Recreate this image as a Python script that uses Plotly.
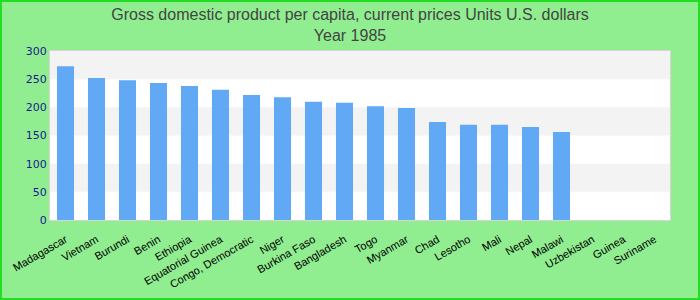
import plotly.graph_objects as go

countries = ["Madagascar", "Vietnam", "Burundi", "Benin", "Ethiopia", "Equatorial Guinea",
             "Congo, Democratic", "Niger", "Burkina Faso", "Bangladesh", "Togo", "Myanmar",
             "Chad", "Lesotho", "Mali", "Nepal", "Malawi", "Uzbekistan", "Guinea", "Suriname"]
gdp = [273, 252, 248, 243, 238, 231, 222, 218, 210, 208, 202, 199,
       174, 169, 169, 165, 156, None, None, None]
y_ticks = [0, 50, 100, 150, 200, 250, 300]

W, H = 700, 300
ML, MR, MT, MB = 50, 30, 51, 80
pw, ph = W - ML - MR, H - MT - MB

fig = go.Figure()
fig.add_trace(go.Bar(x=countries, y=gdp, marker=dict(color="#61a9f5", line=dict(width=0))))

shapes = []
for lo, hi in [(250, 300), (150, 200), (50, 100)]:
    shapes.append(dict(type="rect", xref="paper", yref="y", x0=0, x1=1, y0=lo, y1=hi,
                       fillcolor="#f3f3f3", line=dict(width=0), layer="below"))
shapes.append(dict(type="rect", xref="paper", yref="paper",
                   x0=(-ML + 1) / pw, x1=(W - ML - 1) / pw,
                   y0=(-MB + 1) / ph, y1=1 + (MT - 1) / ph,
                   line=dict(color="#22dd22", width=2), fillcolor="rgba(0,0,0,0)"))

fig.update_layout(
    width=W, height=H,
    margin=dict(l=ML, r=MR, t=MT, b=MB, pad=0, autoexpand=False),
    paper_bgcolor="#90ee90", plot_bgcolor="white",
    title=dict(text="Gross domestic product per capita, current prices Units U.S. dollars<br>Year 1985",
               x=0.5, xanchor="center", yref="container", y=1 - 20 / H, yanchor="middle",
               font=dict(family="Liberation Sans, Arial", size=16, color="#444444")),
    shapes=shapes,
    bargap=0.45,
    showlegend=False,
    xaxis=dict(tickangle=-30, tickfont=dict(family="Liberation Sans, Arial", size=11, color="black"),
               showgrid=False, showline=True, linecolor="#d6d6d6", linewidth=1, mirror=True,
               ticks="", ticklabelstandoff=8, fixedrange=True, automargin=False),
    yaxis=dict(range=[0, 300], tickvals=y_ticks, showgrid=False, zeroline=False, automargin=False,
               tickfont=dict(family="DejaVu Sans, Verdana", size=11, color="#1a1a8e"),
               showline=True, linecolor="#d6d6d6", linewidth=1, mirror=True, ticks=""),
)

fig.write_html("out.html")
